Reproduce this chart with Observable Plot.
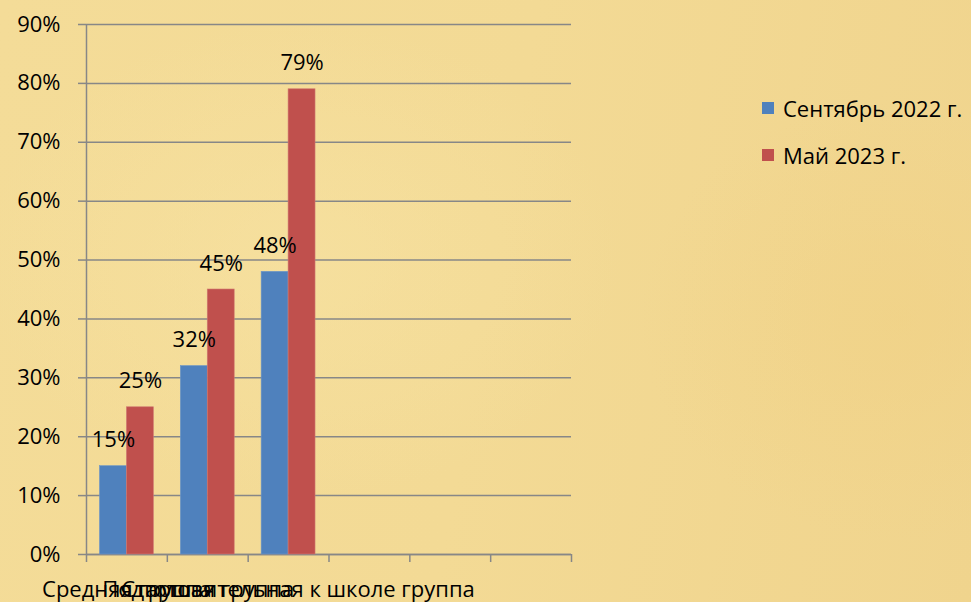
<!DOCTYPE html>
<html>
<head>
<meta charset="utf-8">
<script src="https://cdn.jsdelivr.net/npm/d3@7"></script>
<script src="https://cdn.jsdelivr.net/npm/@observablehq/plot@0.6"></script>
<style>
  html, body { margin: 0; padding: 0; }
  body {
    width: 971px; height: 602px; overflow: hidden; position: relative;
    font-family: "Open Sans", sans-serif;
    background:
      radial-gradient(ellipse 260px 220px at 900px 320px, rgba(240,208,130,0.45), rgba(240,208,130,0) 100%),
      radial-gradient(ellipse 320px 240px at 300px 260px, rgba(248,228,165,0.5), rgba(248,228,165,0) 100%),
      linear-gradient(100deg, #F4DC98 0%, #F3DA95 50%, #F0D48D 100%);
  }
  #chart { position: absolute; left: 0; top: 0; }
  #chart svg { background: transparent; display: block; }
  .legend { position: absolute; left: 762px; top: 0; font-size: 22px; color: #000; }
  .legend .item { position: absolute; left: 0; white-space: nowrap; display: flex; align-items: center; }
  .legend .sw { width: 12px; height: 12px; margin-right: 9px; }
</style>
</head>
<body>
<div id="chart"></div>
<div class="legend" id="legend"></div>
<script>
const categories = ["Средняя группа", "Старшая группа", "Подготовительная к школе группа"];
const slotCount = 6;
const seriesNames = ["Сентябрь 2022 г.", "Май 2023 г."];
const september2022 = [0.15, 0.32, 0.48];
const may2023 = [0.25, 0.45, 0.79];
const yTicks = [0, 0.1, 0.2, 0.3, 0.4, 0.5, 0.6, 0.7, 0.8, 0.9];
const colors = ["#4F81BD", "#C0504D"];

const rows = [];
categories.forEach((c, i) => {
  rows.push({cat: c, i, s: 0, series: seriesNames[0], value: september2022[i]});
  rows.push({cat: c, i, s: 1, series: seriesNames[1], value: may2023[i]});
});
const catRows = categories.map((c, i) => ({cat: c, i}));
const boundaries = d3.range(slotCount + 1);

const fmt = d3.format(".0%");
const gray = "#878787";

const plot = Plot.plot({
  width: 971,
  height: 602,
  marginTop: 24,
  marginBottom: 48,
  marginLeft: 86,
  marginRight: 400,
  style: {fontFamily: "Open Sans, sans-serif", fontSize: "21px", color: "#000", background: "transparent"},
  x: {domain: [0, slotCount], axis: null, label: null},
  y: {domain: [0, 0.9], axis: null, label: null},
  color: {domain: seriesNames, range: colors},
  marks: [
    Plot.gridY(yTicks, {stroke: gray, strokeOpacity: 1, strokeWidth: 1.5}),
    Plot.axisY(yTicks, {tickSize: 8, tickPadding: 18, tickFormat: fmt, label: null, stroke: gray, strokeWidth: 1.5, fontSize: 22, fill: "#000"}),
    Plot.ruleX([0], {stroke: gray, strokeWidth: 1.5}),
    Plot.ruleY([0], {stroke: gray, strokeWidth: 1.5}),
    Plot.axisX(boundaries, {tickSize: 8, tickFormat: () => "", label: null, stroke: gray, strokeWidth: 1.5}),
    Plot.rectY(rows, {
      x1: d => d.i + 1/6 + d.s / 3,
      x2: d => d.i + 1/6 + (d.s + 1) / 3,
      y1: 0,
      y2: "value",
      fill: "series",
      stroke: d => d.s === 1 ? "#D07A72" : "#6E97C8",
      strokeWidth: 0.6
    }),
    Plot.text(rows, {
      x: d => d.i + 1/6 + (d.s + 0.5) / 3,
      y: "value",
      text: d => fmt(d.value),
      dy: -26,
      lineAnchor: "middle",
      textAnchor: "middle",
      fontSize: 22,
      fill: "#000"
    }),
    Plot.text(catRows, {
      x: d => d.i + 0.5,
      y: () => 0,
      text: "cat",
      dy: 35,
      lineAnchor: "middle",
      textAnchor: "middle",
      fontSize: 22,
      fill: "#000"
    })
  ]
});
document.getElementById("chart").appendChild(plot);

const legend = document.getElementById("legend");
seriesNames.forEach((name, k) => {
  const item = document.createElement("div");
  item.className = "item";
  item.style.top = (93 + k * 47) + "px";
  const sw = document.createElement("span");
  sw.className = "sw";
  sw.style.background = colors[k];
  const tx = document.createElement("span");
  tx.textContent = name;
  item.appendChild(sw);
  item.appendChild(tx);
  legend.appendChild(item);
});
</script>
</body>
</html>
